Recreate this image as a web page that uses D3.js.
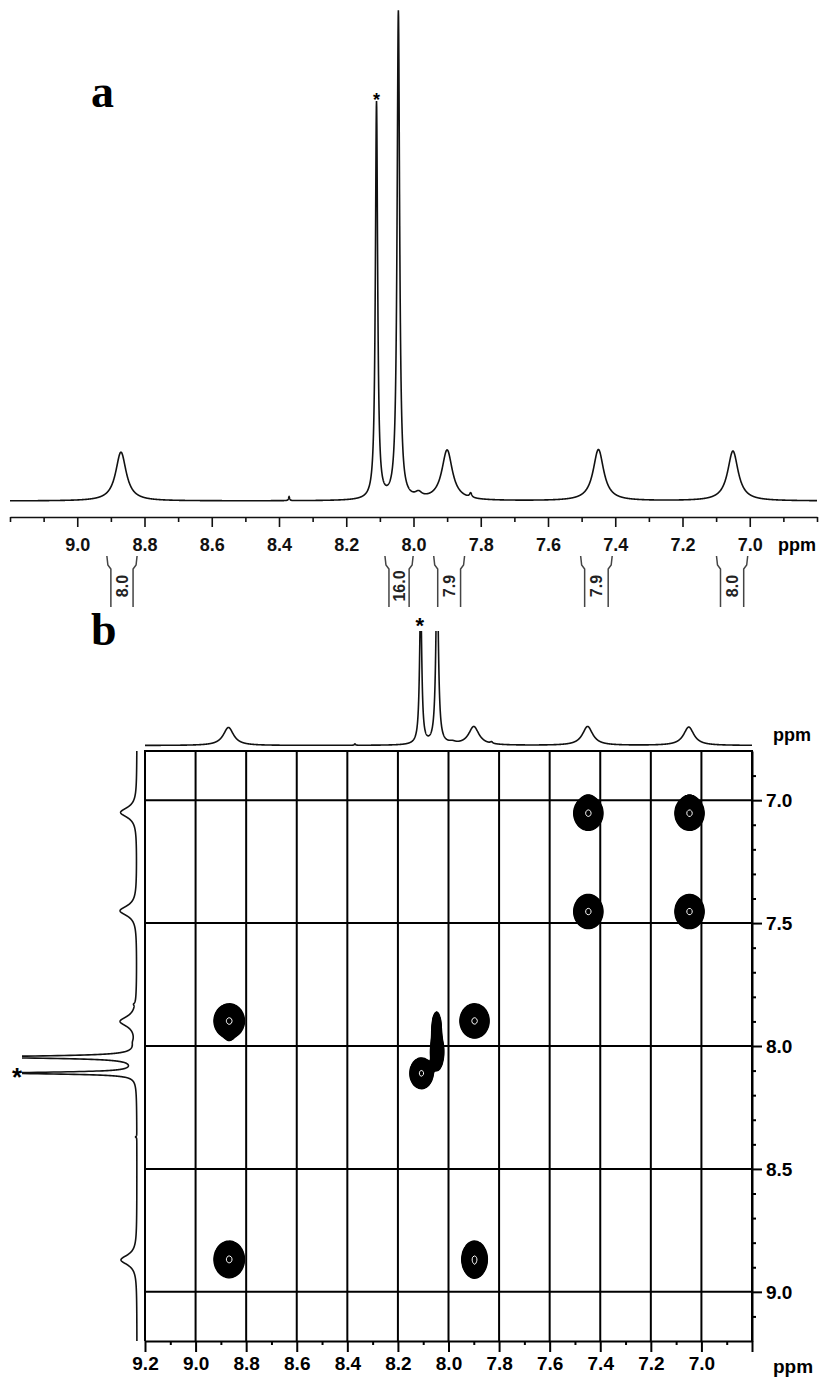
<!DOCTYPE html>
<html>
<head>
<meta charset="utf-8">
<script src="https://cdn.jsdelivr.net/npm/d3@7"></script>
<style>
  body { margin: 0; background: #fff; }
</style>
</head>
<body>
<script>

// ---- 1D proton spectrum: peak list ----
var peakPpm = [8.87, 8.11, 8.045, 7.90, 7.45, 7.05, 8.37, 7.985, 7.83];
var peakInt = [10.0, 81.4, 100, 10.3, 10.5, 10.2, 0.8, 1.0, 0.9];
var peakHw  = [0.019, 0.004, 0.0045, 0.019, 0.019, 0.019, 0.002, 0.012, 0.004];

// ---- integrals (panel a) ----
var intFrom = [8.900, 8.073, 7.928, 7.491, 7.087];
var intTo   = [8.834, 8.013, 7.860, 7.421, 7.018];
var intText = ["8.0", "16.0", "7.9", "7.9", "8.0"];

// ---- axis ticks ----
var ticksA     = [9.0, 8.8, 8.6, 8.4, 8.2, 8.0, 7.8, 7.6, 7.4, 7.2, 7.0];
var ticksAMin  = [9.2, 9.1, 8.9, 8.7, 8.5, 8.3, 8.1, 7.9, 7.7, 7.5, 7.3, 7.1, 6.9, 6.8];
var ticksBx    = [9.2, 9.0, 8.8, 8.6, 8.4, 8.2, 8.0, 7.8, 7.6, 7.4, 7.2, 7.0, 6.8];
var ticksBxMin = [9.1, 8.9, 8.7, 8.5, 8.3, 8.1, 7.9, 7.7, 7.5, 7.3, 7.1, 6.9];
var ticksBy    = [7.0, 7.5, 8.0, 8.5, 9.0];
var ticksByMin = [6.9, 7.1, 7.2, 7.3, 7.4, 7.6, 7.7, 7.8, 7.9, 8.1, 8.2, 8.3, 8.4, 8.6, 8.7, 8.8, 8.9, 9.1];

// ---- COSY cross / diagonal peaks (F2 ppm, F1 ppm, widths, amplitude) ----
var crossX   = [7.45, 7.05, 7.45, 7.05, 8.87, 7.90, 8.87, 7.90, 8.11, 8.048, 8.050, 7.45, 7.05, 8.87, 7.90];
var crossY   = [7.05, 7.05, 7.45, 7.45, 7.895, 7.895, 8.865, 8.865, 8.108, 8.02, 7.93, 7.003, 7.003, 7.945, 8.905];
var crossSx  = [0.024, 0.024, 0.024, 0.024, 0.025, 0.024, 0.025, 0.021, 0.019, 0.012, 0.009, 0.011, 0.011, 0.009, 0.011];
var crossSy  = [0.029, 0.029, 0.029, 0.029, 0.029, 0.029, 0.031, 0.031, 0.026, 0.035, 0.035, 0.012, 0.012, 0.014, 0.014];
var crossAmp = [1, 1, 1, 1, 1, 1, 1, 1, 1, 0.6, 0.45, 0.25, 0.25, 0.3, 0.25];


var W = 819, H = 1382;
var font = '"Liberation Sans", Arial, sans-serif';

var svg = d3.select("body").append("svg")
    .attr("width", W)
    .attr("height", H);

function lorentz(p, wm) {
    var s = 0;
    for (var i = 0; i < peakPpm.length; i++) {
        var g = peakHw[i] * wm, d = p - peakPpm[i];
        s += peakInt[i] * g * g / (g * g + d * d);
    }
    return s;
}
var ppmSamples = d3.range(9.2, 6.7995, -0.0005);


// =================== Panel a ===================
var xA = d3.scaleLinear().domain([9.2, 6.8]).range([10, 817]);
var yA = d3.scaleLinear().domain([0, 100]).range([501, 13]);

var gA = svg.append("g");

gA.append("path")
    .datum(ppmSamples)
    .attr("d", d3.line()
        .x(function(p) { return xA(p); })
        .y(function(p) { return yA(lorentz(p, 1)); }))
    .attr("fill", "none")
    .attr("stroke", "#111")
    .attr("stroke-width", 1.6);

// axis
var axA = gA.append("g").attr("transform", "translate(0,517)");
axA.call(d3.axisBottom(xA).tickValues(ticksA).tickSize(10).tickSizeOuter(0)
        .tickFormat(d3.format(".1f")));
axA.append("g").call(d3.axisBottom(xA).tickValues(ticksAMin).tickSize(5).tickFormat(""))
    .select(".domain").remove();
axA.selectAll("line, path").attr("stroke", "#111").attr("stroke-width", 1.6);
axA.selectAll("text")
    .attr("y", 21).attr("dy", "0.71em")
    .attr("font-family", font).attr("font-size", "18px").attr("font-weight", "bold")
    .attr("fill", "#111");

gA.append("text").text("ppm")
    .attr("x", 797).attr("y", 551)
    .attr("text-anchor", "middle")
    .attr("font-family", font).attr("font-size", "18px").attr("font-weight", "bold");

// integrals
var brTop = 556, brKink = 569, brBot = 607, flare = 4;
intFrom.forEach(function(a, i) {
    var x1 = xA(a), x2 = xA(intTo[i]);
    gA.append("path")
        .attr("d", "M" + (x1 - flare) + "," + brTop + " L" + (x1 - flare + 1) + "," + (brKink - 4) +
                   " L" + x1 + "," + brKink + " L" + x1 + "," + brBot)
        .attr("fill", "none").attr("stroke", "#444").attr("stroke-width", 1.5);
    gA.append("path")
        .attr("d", "M" + (x2 + flare) + "," + brTop + " L" + (x2 + flare - 1) + "," + (brKink - 4) +
                   " L" + x2 + "," + brKink + " L" + x2 + "," + brBot)
        .attr("fill", "none").attr("stroke", "#444").attr("stroke-width", 1.5);
    gA.append("text").text(intText[i])
        .attr("transform", "translate(" + ((x1 + x2) / 2 + 6) + ",586) rotate(-90)")
        .attr("text-anchor", "middle")
        .attr("font-family", font).attr("font-size", "16px").attr("font-weight", "bold")
        .attr("fill", "#222");
});

gA.append("text").text("*")
    .attr("x", xA(8.11)).attr("y", 106)
    .attr("text-anchor", "middle")
    .attr("font-family", font).attr("font-size", "18px").attr("font-weight", "bold");

gA.append("text").text("a")
    .attr("x", 91).attr("y", 107)
    .attr("font-family", '"Liberation Serif", "Times New Roman", serif')
    .attr("font-size", "46px").attr("font-weight", "bold");


// =================== Panel b ===================
var x0 = 145, x1 = 752, y0 = 751, y1 = 1341;
var xB = d3.scaleLinear().domain([9.2, 6.8]).range([x0, x1]);
var yB = d3.scaleLinear().domain([6.8, 9.2]).range([y0, y1]);

svg.append("text").text("b")
    .attr("x", 91).attr("y", 645)
    .attr("font-family", '"Liberation Serif", "Times New Roman", serif')
    .attr("font-size", "46px").attr("font-weight", "bold");

var defs = svg.append("defs");
defs.append("clipPath").attr("id", "clipTop")
    .append("rect").attr("x", 0).attr("y", 631).attr("width", W).attr("height", 200);
defs.append("clipPath").attr("id", "clipLeft")
    .append("rect").attr("x", 22).attr("y", 700).attr("width", 200).attr("height", 700);

// top projection
var hT = d3.scaleLinear().domain([0, 10]).range([745.5, 727.5]);
svg.append("path")
    .datum(ppmSamples.filter(function(p) { return p <= 9.205 && p >= 6.795; }))
    .attr("clip-path", "url(#clipTop)")
    .attr("d", d3.line()
        .x(function(p) { return xB(p); })
        .y(function(p) { return hT(lorentz(p, 1.3)); }))
    .attr("fill", "none").attr("stroke", "#111").attr("stroke-width", 1.6);

svg.append("text").text("*")
    .attr("x", xB(8.11) - 1).attr("y", 633)
    .attr("text-anchor", "middle")
    .attr("font-family", font).attr("font-size", "22px").attr("font-weight", "bold");

svg.append("text").text("ppm")
    .attr("x", 792).attr("y", 741)
    .attr("text-anchor", "middle")
    .attr("font-family", font).attr("font-size", "18px").attr("font-weight", "bold");

// left projection
var hL = d3.scaleLinear().domain([0, 10]).range([137, 121]);
svg.append("path")
    .datum(ppmSamples)
    .attr("clip-path", "url(#clipLeft)")
    .attr("d", d3.line()
        .x(function(p) { return hL(lorentz(p, 1.3)); })
        .y(function(p) { return yB(p); }))
    .attr("fill", "none").attr("stroke", "#111").attr("stroke-width", 1.6);

svg.append("text").text("*")
    .attr("x", 17).attr("y", 1086)
    .attr("text-anchor", "middle")
    .attr("font-family", font).attr("font-size", "26px").attr("font-weight", "bold");

// grid
var gGrid = svg.append("g").attr("stroke", "#000").attr("stroke-width", 2);
gGrid.selectAll(".vg").data(ticksBx).enter().append("line")
    .attr("x1", function(d) { return xB(d); }).attr("x2", function(d) { return xB(d); })
    .attr("y1", y0).attr("y2", y1);
gGrid.selectAll(".hg").data(ticksBy).enter().append("line")
    .attr("x1", x0).attr("x2", x1)
    .attr("y1", function(d) { return yB(d); }).attr("y2", function(d) { return yB(d); });
gGrid.append("line").attr("x1", x0 - 1).attr("x2", x1 + 1).attr("y1", y0).attr("y2", y0);

// contours
var step = 1.5;
var nx = Math.ceil((x1 - x0) / step) + 1, ny = Math.ceil((y1 - y0) / step) + 1;
var vals = new Float64Array(nx * ny);
for (var j = 0; j < ny; j++) {
    var py = yB.invert(y0 + j * step);
    for (var i = 0; i < nx; i++) {
        var px = xB.invert(x0 + i * step), s = 0;
        for (var k = 0; k < crossX.length; k++) {
            var dx = (px - crossX[k]) / crossSx[k], dy = (py - crossY[k]) / crossSy[k];
            var e = 0.5 * (dx * dx + dy * dy);
            if (e < 12) s += crossAmp[k] * Math.exp(-e);
        }
        vals[j * nx + i] = s;
    }
}
var levels = d3.range(15).map(function(i) { return 0.055 * Math.pow(0.9 / 0.055, i / 14); });
var conts = d3.contours().size([nx, ny]).thresholds(levels)(vals);
var toPx = d3.geoTransform({
    point: function(x, y) { this.stream.point(x0 + x * step, y0 + y * step); }
});
var gC = svg.append("g");
// outermost level filled, inner levels drawn as lines
gC.append("path").datum(conts[0])
    .attr("d", d3.geoPath(toPx))
    .attr("fill", "#000").attr("stroke", "#000").attr("stroke-width", 1.3);
gC.selectAll(".lv").data(conts.slice(1, -1)).enter().append("path")
    .attr("d", d3.geoPath(toPx))
    .attr("fill", "none").attr("stroke", "#000").attr("stroke-width", 1.3);
gC.append("path").datum(conts[conts.length - 1])
    .attr("d", d3.geoPath(toPx))
    .attr("fill", "none").attr("stroke", "#fff").attr("stroke-width", 1);

// bottom axis
var axB = svg.append("g").attr("transform", "translate(0," + y1 + ")");
axB.call(d3.axisBottom(xB).tickValues(ticksBx).tickSize(11).tickSizeOuter(0)
        .tickFormat(function(d) { return d < 6.9 ? "" : d3.format(".1f")(d); }));
axB.append("g").call(d3.axisBottom(xB).tickValues(ticksBxMin).tickSize(4).tickFormat(""))
    .select(".domain").remove();
axB.selectAll("line, path").attr("stroke", "#000").attr("stroke-width", 2);
axB.selectAll("text")
    .attr("y", 16).attr("dy", "0.71em")
    .attr("font-family", font).attr("font-size", "19px").attr("font-weight", "bold")
    .attr("fill", "#000");
svg.append("text").text("ppm")
    .attr("x", 793).attr("y", 1373)
    .attr("text-anchor", "middle")
    .attr("font-family", font).attr("font-size", "19px").attr("font-weight", "bold");

// right axis
var axR = svg.append("g").attr("transform", "translate(" + x1 + ",0)");
axR.call(d3.axisRight(yB).tickValues(ticksBy).tickSize(10).tickSizeOuter(0)
        .tickFormat(d3.format(".1f")));
axR.append("g").call(d3.axisRight(yB).tickValues(ticksByMin).tickSize(4).tickFormat(""))
    .select(".domain").remove();
axR.selectAll("line, path").attr("stroke", "#000").attr("stroke-width", 2);
axR.selectAll("text")
    .attr("x", 14).attr("dy", "0.35em")
    .attr("font-family", font).attr("font-size", "19px").attr("font-weight", "bold")
    .attr("fill", "#000");

</script>
</body>
</html>
